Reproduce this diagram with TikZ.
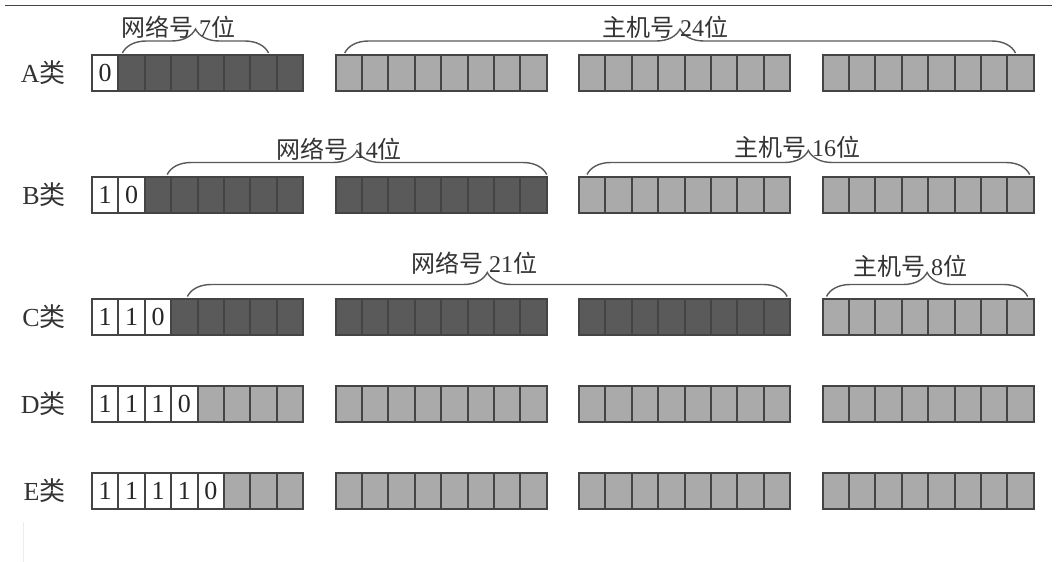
\documentclass[tikz,border=0pt]{standalone}
\usepackage{fontspec}
\setmainfont{Liberation Serif}
\newfontfamily\cjk{Noto Sans CJK SC}
\usetikzlibrary{decorations.pathreplacing}

\definecolor{netgray}{HTML}{5A5A5A}
\definecolor{hostgray}{HTML}{AAAAAA}
\definecolor{linegray}{HTML}{444444}

\tikzset{
  cell/.style={draw=linegray, line width=1pt, minimum width=13.2pt, minimum height=18pt,
    inner sep=0pt, outer sep=0pt, text=black!85, font=\fontsize{13}{13}\selectfont},
  bitbrace/.style={draw=gray!70!black, line width=0.7pt, decorate,
    decoration={brace, amplitude=12pt, raise=1pt}},
  lbl/.style={font=\fontsize{12}{14}\selectfont, text=black!80, inner sep=0pt},
  rowlbl/.style={font=\fontsize{13}{14}\selectfont, text=black!80, inner sep=0pt, anchor=east},
}

\begin{document}
\begin{tikzpicture}[x=0.5pt, y=-0.5pt]
        \useasboundingbox (0,0) rectangle (1062,562);

        % Top rule and faint scan edge
        \draw[linegray, line width=0.8pt] (5,5.5) -- (1052,5.5);
        \draw[gray!15, line width=0.5pt] (23,522) -- (23,562);

        % Rows of 32 bits: class / row centre / leading bits / end of network part
        \foreach \r/\y/\nw/\nn in {A/73/1/8, B/194.5/2/16, C/316.5/3/24, D/403.5/4/4, E/491/5/5} {
          \node[rowlbl] (lbl\r) at (66,\y) {\r{\cjk 类}};
          \foreach \b in {0,...,31} {
            \pgfmathsetmacro\cx{92 + int(\b/8)*243.5 + mod(\b,8)*26.4 + 13.2}
            \pgfmathtruncatemacro\last{\nw-1}
            \ifnum\b<\nw
              \ifnum\b=\last \def\bit{0}\else \def\bit{1}\fi
              \node[cell, fill=white] (\r-\b) at (\cx,\y) {\bit};
            \else\ifnum\b<\nn
              \node[cell, fill=netgray] (\r-\b) at (\cx,\y) {};
            \else
              \node[cell, fill=hostgray] (\r-\b) at (\cx,\y) {};
            \fi\fi
          }
        }

        % Class A braces
        \draw[bitbrace] ([xshift=2pt]A-1.north west) -- ([xshift=2.5pt]A-6.north);
        \node[lbl] (netA) at (178,27) {{\cjk 网络号}~7{\cjk 位}};
        \draw[bitbrace] ([xshift=-2pt]A-8.north) -- ([xshift=-2.5pt]A-31.north);
        \node[lbl] (hostA) at (665,27) {{\cjk 主机号}~24{\cjk 位}};

        % Class B braces
        \draw[bitbrace] ([xshift=-2pt]B-2.north east) -- (B-15.north east);
        \node[lbl] (netB) at (339,149) {{\cjk 网络号}~14{\cjk 位}};
        \draw[bitbrace] ([xshift=4pt]B-16.north west) -- ([xshift=-2pt]B-31.north east);
        \node[lbl] (hostB) at (797,147) {{\cjk 主机号}~16{\cjk 位}};

        % Class C braces
        \draw[bitbrace] ([xshift=1.5pt]C-3.north) -- ([xshift=-1.5pt]C-23.north east);
        \node[lbl] (netC) at (474,263) {{\cjk 网络号}~21{\cjk 位}};
        \draw[bitbrace] ([xshift=2pt]C-24.north west) -- ([xshift=-3pt]C-31.north east);
        \node[lbl] (hostC) at (910,266) {{\cjk 主机号}~8{\cjk 位}};
\end{tikzpicture}
\end{document}
